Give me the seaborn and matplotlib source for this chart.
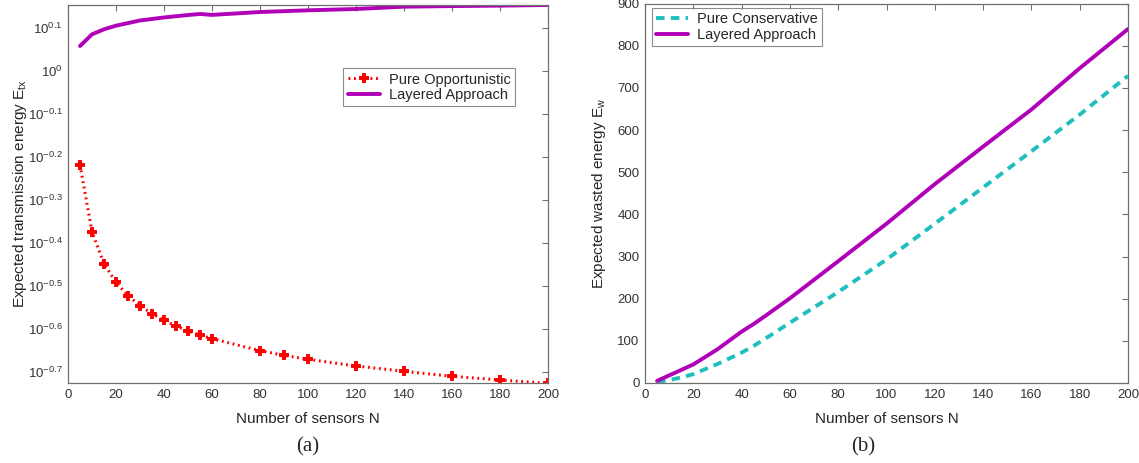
import numpy as np
import pandas as pd
import seaborn as sns
import matplotlib.pyplot as plt
from matplotlib.ticker import FixedLocator, FixedFormatter, NullLocator

# Panel (a): expected transmission energy (log10 values)
n_opp = [5, 10, 15, 20, 25, 30, 35, 40, 45, 50, 55, 60, 80, 90, 100, 120, 140, 160, 180, 200]
log_opp = [-0.2186, -0.3737, -0.4481, -0.4915, -0.5225, -0.5457, -0.5643, -0.5798, -0.5930,
           -0.6047, -0.6140, -0.6225, -0.6504, -0.6612, -0.6705, -0.6860, -0.6984, -0.7100,
           -0.7186, -0.7264]

n_lay_a = [5, 10, 15, 20, 30, 40, 50, 55, 60, 80, 100, 120, 140, 160, 180, 200]
log_lay_a = [0.0581, 0.0853, 0.0970, 0.1054, 0.1175, 0.1245, 0.1302, 0.1326, 0.1305,
             0.1372, 0.1411, 0.1442, 0.1496, 0.1510, 0.1520, 0.1535]

# Panel (b): expected wasted energy
n_b = [5, 10, 15, 20, 30, 40, 45, 50, 60, 80, 100, 120, 140, 160, 180, 200]
ew_layered = [5, 18, 31, 44, 80, 122, 140, 160, 201, 289, 378, 472, 561, 649, 747, 840]
ew_conservative = [2, 7, 13, 21, 45, 72, 88, 106, 143, 216, 293, 378, 464, 550, 637, 729]

ytick_exps = [-0.7, -0.6, -0.5, -0.4, -0.3, -0.2, -0.1, 0, 0.1]

RED = '#ff0000'
MAGENTA = '#b000b8'
CYAN = '#1fbfbf'
SPINE = '#707070'


def style_axes(ax):
    for s in ax.spines.values():
        s.set_color(SPINE)
        s.set_linewidth(0.9)
    ax.tick_params(which='both', direction='in', top=True, right=True,
                   length=4, width=0.8, color=SPINE, labelsize=9.5,
                   labelcolor='#333333', pad=4)


def style_legend(leg):
    leg.get_frame().set_edgecolor(SPINE)
    leg.get_frame().set_linewidth(0.8)


def main():
    sns.set_style("white")
    plt.rcParams['font.family'] = ['Liberation Sans', 'DejaVu Sans']
    plt.rcParams['mathtext.fontset'] = 'custom'
    plt.rcParams['mathtext.rm'] = 'Liberation Sans'

    fig = plt.figure(figsize=(11.39, 4.63), dpi=100)
    ax1 = fig.add_axes([0.0597, 0.1728, 0.4214, 0.8164])
    ax2 = fig.add_axes([0.5663, 0.1728, 0.4241, 0.8192])

    # ---- panel (a)
    df_opp = pd.DataFrame({'N': n_opp, 'E': 10 ** np.array(log_opp)})
    df_lay = pd.DataFrame({'N': n_lay_a, 'E': 10 ** np.array(log_lay_a)})
    sns.lineplot(data=df_opp, x='N', y='E', ax=ax1, color=RED, linestyle=(0, (0.6, 1.2)),
                 linewidth=2.2, marker='P', markersize=6, markeredgewidth=1.4,
                 markeredgecolor=RED, label='Pure Opportunistic')
    sns.lineplot(data=df_lay, x='N', y='E', ax=ax1, color=MAGENTA, linewidth=2.8,
                 label='Layered Approach')
    ax1.set_yscale('log')
    ax1.set_xlim(0, 200)
    ax1.set_ylim(10 ** -0.7256, 10 ** 0.1535)
    ax1.yaxis.set_major_locator(FixedLocator([10 ** e for e in ytick_exps]))
    ax1.yaxis.set_major_formatter(FixedFormatter(
        [r'$\mathregular{10^{%g}}$' % e for e in ytick_exps]))
    ax1.yaxis.set_minor_locator(NullLocator())
    ax1.set_xticks(range(0, 201, 20))
    ax1.set_xlabel('Number of sensors N', fontsize=11, labelpad=8)
    ax1.set_ylabel(r'Expected transmission energy $\mathregular{E_{tx}}$', fontsize=11)
    ax1.yaxis.set_label_coords(-0.081, 0.5)
    style_axes(ax1)
    leg1 = ax1.legend(loc='upper right', bbox_to_anchor=(0.931, 0.833), fontsize=10.5,
                      frameon=True, fancybox=False, handlelength=2.2, borderpad=0.3,
                      labelspacing=0.1, handletextpad=0.6, borderaxespad=0)
    style_legend(leg1)

    # ---- panel (b)
    df_b = pd.DataFrame({'N': n_b, 'cons': ew_conservative, 'lay': ew_layered})
    sns.lineplot(data=df_b, x='N', y='cons', ax=ax2, color=CYAN, linestyle=(0, (2.2, 1.6)),
                 linewidth=2.8, label='Pure Conservative')
    sns.lineplot(data=df_b, x='N', y='lay', ax=ax2, color=MAGENTA, linewidth=2.8,
                 label='Layered Approach')
    ax2.set_xlim(0, 200)
    ax2.set_ylim(0, 900)
    ax2.set_xticks(range(0, 201, 20))
    ax2.set_yticks(range(0, 901, 100))
    ax2.set_xlabel('Number of sensors N', fontsize=11, labelpad=8)
    ax2.set_ylabel(r'Expected wasted energy $\mathregular{E_{w}}$', fontsize=11)
    ax2.yaxis.set_label_coords(-0.0766, 0.5)
    style_axes(ax2)
    leg2 = ax2.legend(loc='upper left', bbox_to_anchor=(0.0139, 0.9887), fontsize=10.5,
                      frameon=True, fancybox=False, handlelength=2.2, borderpad=0.3,
                      labelspacing=0.1, handletextpad=0.6, borderaxespad=0)
    style_legend(leg2)

    # panel captions
    fig.text(0.2705, 0.0346, '(a)', fontsize=15, family='Liberation Serif',
             ha='center', va='center')
    fig.text(0.7577, 0.0346, '(b)', fontsize=15, family='Liberation Serif',
             ha='center', va='center')

    fig.savefig('out.png', dpi=100)


if __name__ == "__main__":
    main()
